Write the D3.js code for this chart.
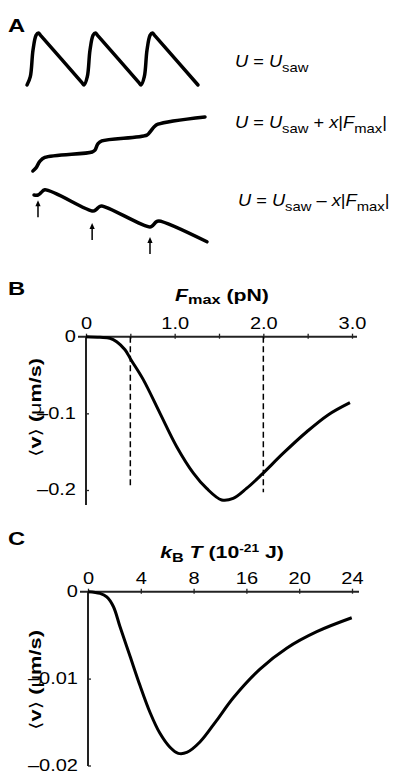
<!DOCTYPE html>
<html>
<head>
<meta charset="utf-8">
<script src="https://cdn.jsdelivr.net/npm/d3@7"></script>
<style>
  body { margin: 0; background: #fff; }
  svg { display: block; font-family: "Liberation Sans", Arial, Helvetica, sans-serif; }
</style>
</head>
<body>
<svg id="fig" width="394" height="773"></svg>
<script>
// ---- panel A : schematic potentials (x in sawtooth periods, y in sawtooth heights)
const sawPts = [
  [0, 0], [0.058, 0.16], [0.105, 0.67], [0.16, 0.96], [0.2, 1], [0.25, 0.94], [0.96, 0.05],
  [1, 0], [1.058, 0.16], [1.105, 0.67], [1.16, 0.96], [1.2, 1], [1.25, 0.94], [1.96, 0.05],
  [2, 0], [2.058, 0.16], [2.105, 0.67], [2.16, 0.96], [2.2, 1], [2.25, 0.94], [3, 0]
];
const tiltUpPts = [
  [-0.02, 0], [0.035, 0.06], [0.105, 0.19], [0.19, 0.26], [1.02, 0.365], [1.07, 0.4],
  [1.12, 0.52], [1.19, 0.577], [1.98, 0.69], [2.035, 0.75], [2.105, 0.846], [2.175, 0.9], [3.0, 1.04]
];
const tiltDownPts = [
  [0, 0], [0.07, 0], [0.12, 0.04], [0.19, 0.1], [1.035, -0.31], [1.09, -0.28], [1.14, -0.23],
  [1.19, -0.21], [2.035, -0.615], [2.09, -0.58], [2.14, -0.52], [2.19, -0.5], [3.035, -0.9]
];
const arrowX = [0.07, 1.02, 2.035];
const arrowTip = [-0.1, -0.54, -0.81];

// ---- panel B : <v> vs Fmax
const fmax = [0, 0.158, 0.27, 0.346, 0.44, 0.507, 0.646, 0.835, 1.023, 1.211, 1.361, 1.53,
  1.66, 1.81, 1.98, 2.225, 2.49, 2.73, 2.977];
const vB = [0, -0.0008, -0.002, -0.0065, -0.017, -0.03, -0.056, -0.1, -0.1435, -0.178, -0.198,
  -0.213, -0.211, -0.198, -0.18, -0.152, -0.124, -0.102, -0.086];
const fTicks = [0, 0.5, 1, 1.5, 2, 2.5, 3];
const fTickLabels = ['0', '', '1.0', '', '2.0', '', '3.0'];
const vBTicks = [0, -0.1, -0.2];
const vBTickLabels = ['0', '\u20130.1', '\u20130.2'];
const dashX = [0.5, 2.0];
const dashBottom = [-0.195, -0.203];

// ---- panel C : <v> vs kBT
const kT = [0.02, 0.91, 1.42, 1.92, 2.42, 3.18, 3.94, 4.7, 5.45, 6.21, 6.84, 7.48, 8.48, 9.75,
  11.01, 13.03, 15.05, 17.33, 19.98];
const vC = [0, -0.0002, -0.0006, -0.0017, -0.004, -0.0074, -0.0108, -0.0139, -0.0163, -0.0179,
  -0.0186, -0.0185, -0.0173, -0.0148, -0.0122, -0.0089, -0.0065, -0.0046, -0.003];
const kTicks = [0, 4, 8, 12, 16, 20];
const kTickLabels = ['0', '4', '8', '16', '20', '24'];
const vCTicks = [0, -0.01, -0.02];
const vCTickLabels = ['0', '\u20130.01', '\u20130.02'];

const SX = 1.25; // the figure's lettering is set wide
const svg = d3.select('#fig');
svg.append('rect').attr('width', 394).attr('height', 773).attr('fill', '#fff');

function stretched(x, y, anchor, size, weight, sx) {
  return svg.append('g')
    .attr('transform', `translate(${x},${y}) scale(${sx || SX},1)`)
    .append('text')
    .attr('text-anchor', anchor)
    .attr('font-size', size)
    .attr('font-weight', weight || 'normal')
    .attr('fill', '#000');
}

function panelLetter(t, x, y) {
  stretched(x, y, 'start', 19, 'bold').text(t);
}

// ================= Panel A =================
panelLetter('A', 8, 32);

const xA1 = d3.scaleLinear().domain([0, 3]).range([27, 198]);
const xA2 = d3.scaleLinear().domain([0, 3]).range([34, 205]);
const yRow = (base) => d3.scaleLinear().domain([0, 1]).range([base, base - 52]);
const y1 = yRow(85), y2 = yRow(171), y3 = yRow(195);

function drawPot(pts, xs, ys) {
  const line = d3.line()
    .x((d) => xs(d[0]))
    .y((d) => ys(d[1]))
    .curve(d3.curveCatmullRom.alpha(0.5));
  svg.append('path')
    .attr('d', line(pts))
    .attr('fill', 'none')
    .attr('stroke', '#000')
    .attr('stroke-width', 3.5)
    .attr('stroke-linejoin', 'round')
    .attr('stroke-linecap', 'round');
}
drawPot(sawPts, xA1, y1);
drawPot(tiltUpPts, xA2, y2);
drawPot(tiltDownPts, xA2, y3);

// arrows under the local minima
arrowX.forEach((ax, i) => {
  const px = xA2(ax);
  const tip = y3(arrowTip[i]);
  svg.append('line')
    .attr('x1', px).attr('x2', px)
    .attr('y1', tip + 4).attr('y2', tip + 17)
    .attr('stroke', '#000').attr('stroke-width', 1.5);
  svg.append('path')
    .attr('d', `M${px},${tip} L${px - 2.6},${tip + 6} L${px + 2.6},${tip + 6} Z`)
    .attr('fill', '#000');
});

// equations, widened together so the longest one fits its slot
function eq(x, y, sign) {
  const g = svg.append('g').attr('transform', `translate(${x},${y})`);
  const t = g.append('text').attr('font-size', 16).attr('fill', '#000');
  t.append('tspan').attr('font-style', 'italic').text('U');
  t.append('tspan').text(' = ');
  t.append('tspan').attr('font-style', 'italic').text('U');
  t.append('tspan').attr('font-size', 13).attr('dy', 5).text('saw');
  if (sign) {
    t.append('tspan').attr('dy', -5).text(' ' + sign + ' ');
    t.append('tspan').attr('font-style', 'italic').text('x');
    t.append('tspan').text('|');
    t.append('tspan').attr('font-style', 'italic').text('F');
    t.append('tspan').attr('font-size', 13).attr('dy', 5).text('max');
    t.append('tspan').attr('dy', -5).text('|');
  }
  return { g, t, x, y };
}
const eqs = [eq(235, 67, null), eq(235, 128, '+'), eq(238, 206, '\u2013')];
const eqScale = 152 / eqs[1].t.node().getBBox().width;
eqs.forEach((e) => e.g.attr('transform', `translate(${e.x},${e.y}) scale(${eqScale},1)`));

// ================= helpers for B / C =================
function drawPanel(opt) {
  const x = d3.scaleLinear().domain(opt.xDomain).range(opt.xRange);
  const y = d3.scaleLinear().domain(opt.yDomain).range(opt.yRange);
  const y0 = y(0);

  // x axis (on top, at v = 0)
  const gx = svg.append('g').attr('transform', `translate(0,${y0})`)
    .call(d3.axisTop(x).tickValues(opt.xTicks)
      .tickFormat((d, i) => opt.xTickLabels[i])
      .tickSizeInner(3).tickSizeOuter(0).tickPadding(5));
  gx.select('.domain').remove();
  gx.selectAll('line').attr('stroke', '#222').attr('stroke-width', 1.3).attr('y2', -3).attr('y1', 2);
  gx.selectAll('text').attr('font-size', 16).attr('font-family', null).attr('fill', '#000')
    .attr('transform', `scale(${SX},1)`);
  svg.append('line')
    .attr('x1', opt.xLineFrom).attr('x2', opt.xLineTo)
    .attr('y1', y0).attr('y2', y0)
    .attr('stroke', '#222').attr('stroke-width', 2);

  // y axis
  const gy = svg.append('g').attr('transform', `translate(${x(0)},0)`)
    .call(d3.axisLeft(y).tickValues(opt.yTicks)
      .tickFormat((d, i) => opt.yTickLabels[i])
      .tickSizeInner(-3).tickSizeOuter(0).tickPadding(10));
  gy.select('.domain').remove();
  gy.selectAll('line').attr('stroke', '#222').attr('stroke-width', 1.3);
  gy.selectAll('text').attr('font-size', 16).attr('font-family', null).attr('fill', '#000')
    .attr('x', null).attr('dy', '0.3em').attr('transform', `translate(-10,0) scale(${SX},1)`);
  svg.append('line')
    .attr('x1', x(0)).attr('x2', x(0))
    .attr('y1', y0).attr('y2', opt.yLineTo)
    .attr('stroke', '#222').attr('stroke-width', 2);

  if (opt.dashX) {
    opt.dashX.forEach((dx, i) => {
      svg.append('line')
        .attr('x1', x(dx)).attr('x2', x(dx))
        .attr('y1', y0).attr('y2', y(opt.dashBottom[i]))
        .attr('stroke', '#000').attr('stroke-width', 1.5)
        .attr('stroke-dasharray', '6,3.5');
    });
  }

  const line = d3.line()
    .x((d, i) => x(opt.xs[i]))
    .y((d) => y(d))
    .curve(d3.curveCatmullRom.alpha(0.5));
  svg.append('path')
    .attr('d', line(opt.ys))
    .attr('fill', 'none')
    .attr('stroke', '#000')
    .attr('stroke-width', 3)
    .attr('stroke-linejoin', 'round');

  // y label
  const g = svg.append('g');
  const t = g.append('text').attr('text-anchor', 'middle').attr('font-size', 16).attr('fill', '#000');
  t.append('tspan').attr('font-family', 'DejaVu Sans').text('\u27E8');
  t.append('tspan').attr('font-weight', 'bold').text('v');
  t.append('tspan').attr('font-family', 'DejaVu Sans').text('\u27E9');
  t.append('tspan').attr('font-weight', 'bold').text(' (');
  t.append('tspan').text('\u03BC');
  t.append('tspan').attr('font-weight', 'bold').text('m/s)');
  const len = t.node().getBBox().width;
  const s = opt.yLabelLen / len;
  g.attr('transform', `translate(41,${opt.yLabelMid}) rotate(-90) scale(${s},1)`);
}

// ================= Panel B =================
panelLetter('B', 8, 295);
{
  const t = stretched(222, 301, 'middle', 17, 'bold');
  t.append('tspan').attr('font-style', 'italic').text('F');
  t.append('tspan').attr('font-size', 13).attr('dy', 3).text('max');
  t.append('tspan').attr('dy', -3).text(' (pN)');
}
drawPanel({
  xDomain: [0, 3], xRange: [86, 352],
  yDomain: [0, -0.2], yRange: [336.7, 490],
  xTicks: fTicks, xTickLabels: fTickLabels,
  yTicks: vBTicks, yTickLabels: vBTickLabels,
  xLineFrom: 78, xLineTo: 357, yLineTo: 505,
  dashX: dashX, dashBottom: dashBottom,
  xs: fmax, ys: vB,
  yLabelLen: 99, yLabelMid: 407.5
});

// ================= Panel C =================
panelLetter('C', 8, 545);
{
  const t = stretched(222, 558, 'middle', 17, 'bold');
  t.append('tspan').attr('font-style', 'italic').text('k');
  t.append('tspan').attr('font-size', 13).attr('dy', 4).text('B');
  t.append('tspan').attr('dy', -4).attr('font-style', 'italic').text(' T');
  t.append('tspan').text(' (10');
  t.append('tspan').attr('font-size', 11).attr('dy', -6).text('-21');
  t.append('tspan').attr('dy', 6).text(' J)');
}
drawPanel({
  xDomain: [0, 20], xRange: [88, 352],
  yDomain: [0, -0.02], yRange: [591.7, 765.5],
  xTicks: kTicks, xTickLabels: kTickLabels,
  yTicks: vCTicks, yTickLabels: vCTickLabels,
  xLineFrom: 80, xLineTo: 359, yLineTo: 766,
  xs: kT, ys: vC,
  yLabelLen: 100, yLabelMid: 680
});
</script>
</body>
</html>
